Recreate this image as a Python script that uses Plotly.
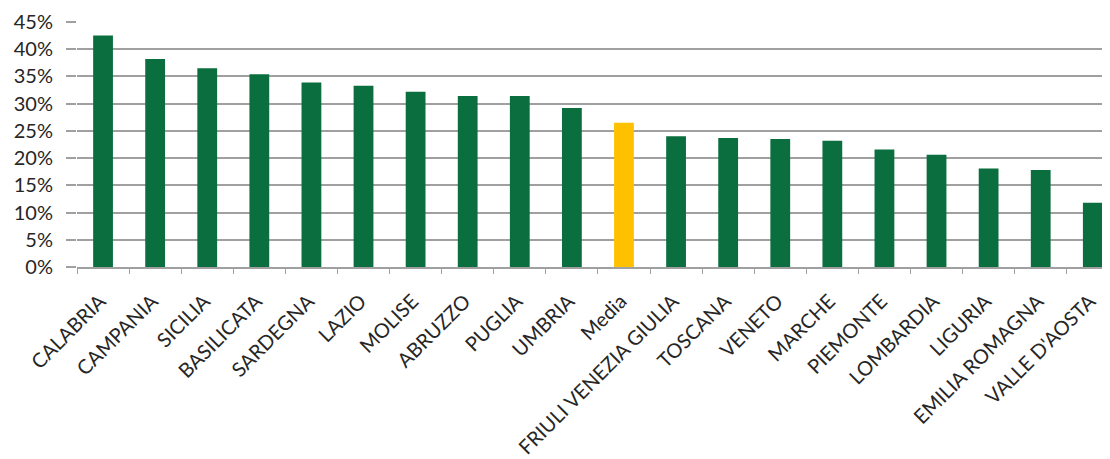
import plotly.graph_objects as go

regions = ["CALABRIA", "CAMPANIA", "SICILIA", "BASILICATA", "SARDEGNA", "LAZIO",
           "MOLISE", "ABRUZZO", "PUGLIA", "UMBRIA", "Media", "FRIULI VENEZIA GIULIA",
           "TOSCANA", "VENETO", "MARCHE", "PIEMONTE", "LOMBARDIA", "LIGURIA",
           "EMILIA ROMAGNA", "VALLE D'AOSTA"]
values = [42.5, 38.2, 36.5, 35.4, 33.9, 33.3, 32.2, 31.4, 31.4, 29.2, 26.5, 24.0,
          23.7, 23.5, 23.2, 21.6, 20.6, 18.1, 17.8, 11.8]
y_ticks = [0, 5, 10, 15, 20, 25, 30, 35, 40, 45]
y_tick_labels = [f"{t}%" for t in y_ticks]

GREEN = "#0b6e3f"
YELLOW = "#ffc000"
colors = [YELLOW if r == "Media" else GREEN for r in regions]

fig = go.Figure(go.Bar(x=regions, y=values, marker=dict(color=colors, line=dict(width=0)),
                       width=0.38, hoverinfo="x+y"))

font = dict(family="Lato, 'Open Sans', sans-serif", size=20, color="#262626")
fig.update_layout(
    width=1102, height=451,
    margin=dict(l=69, r=0, t=14, b=189),
    paper_bgcolor="white", plot_bgcolor="white",
    showlegend=False, font=font,
)
fig.update_xaxes(
    type="category", range=[-0.5, 19.33], tickangle=-45,
    showgrid=False, showline=True, linecolor="#a0a0a0", linewidth=1.5,
    ticks="outside", tickson="boundaries", ticklen=5, tickcolor="#a0a0a0",
    ticklabelstandoff=13, ticklabelshift=-3,
    tickfont=font,
)
fig.update_yaxes(
    range=[0, 45], tickvals=y_ticks, ticktext=y_tick_labels,
    showgrid=True, gridcolor="#a0a0a0", gridwidth=1.5, zeroline=False,
    showline=False, ticks="outside", ticklen=10, tickcolor="#a0a0a0", tickwidth=1.5,
    ticklabelstandoff=9, tickfont=font,
)
fig.write_html("out.html")
